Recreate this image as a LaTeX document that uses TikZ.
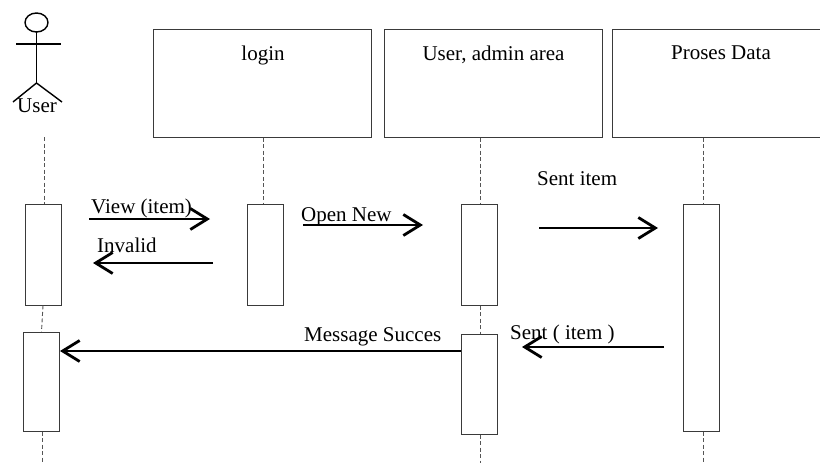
\documentclass[tikz,border=0pt]{standalone}
\usepackage{fontspec}
\setmainfont{Liberation Serif}
\usetikzlibrary{arrows.meta}
\definecolor{boxgray}{HTML}{3A3A3A}
\definecolor{linegray}{HTML}{555555}
\tikzset{
  txt/.style={font=\fontsize{21}{25}\selectfont, inner sep=0pt, anchor=base},
  hbox/.style={draw=boxgray, line width=1pt, minimum width=218pt, minimum height=108pt, inner sep=0pt},
  actbox/.style={draw=boxgray, line width=1pt, fill=white, minimum width=36pt, inner sep=0pt},
  lifeline/.style={draw=linegray, line width=0.9pt, dash pattern=on 4pt off 2.5pt},
  msg/.style={draw=black, line width=2.8pt, -{Straight Barb[length=17pt,width=21pt]}},
  actorline/.style={draw=black, line width=1.4pt}
}
\begin{document}
\begin{tikzpicture}[x=1pt,y=-1pt]
\useasboundingbox (0,0) rectangle (820,463);
\clip (0,0) rectangle (820,463);
% actor
\coordinate (head) at (36.5,22.5);
\draw[actorline] (head) ellipse [x radius=11.5pt, y radius=9.5pt];
\coordinate (neck) at (36.5,32);
\coordinate (hip) at (36.5,83);
\coordinate (handl) at (16,44);
\coordinate (handr) at (61,44);
\coordinate (footl) at (13,102);
\coordinate (footr) at (62,102);
\draw[actorline] (neck) -- (hip);
\draw[actorline] (handl) -- (handr);
\draw[actorline] (footl) -- (hip) -- (footr);
\node[txt] (usertxt) at (37,112) {User};
% header boxes
\node[hbox] (login) at (262.5,83) {};
\node[hbox] (admin) at (493,83) {};
\node[hbox] (proses) at (721,83) {};
\node[txt] (logintxt) at (263,60) {login};
\node[txt] (admintxt) at (493.5,60) {User, admin area};
\node[txt] (prosestxt) at (721,59) {Proses Data};
% activation boxes
\node[actbox, minimum height=101pt] (ua1) at (43,254.5) {};
\node[actbox, minimum height=99pt] (ua2) at (41.5,381.5) {};
\node[actbox, minimum height=101pt] (la1) at (265,254.5) {};
\node[actbox, minimum height=101pt] (aa1) at (479,254.5) {};
\node[actbox, minimum height=100pt] (aa2) at (479,384) {};
\node[actbox, minimum height=227pt] (pa1) at (701,317.5) {};
% lifelines
\coordinate (utop) at (44,137);
\coordinate (ubot) at (42,463);
\coordinate (abot) at (480,463);
\coordinate (pbot) at (703,463);
\draw[lifeline] (utop) -- (utop |- ua1.north);
\draw[lifeline] (ua1.south) -- (ua2.north);
\draw[lifeline] (ubot |- ua2.south) -- (ubot);
\draw[lifeline] (login.south -| 263,0) -- (la1.north -| 263,0);
\draw[lifeline] (admin.south -| abot) -- (aa1.north -| abot);
\draw[lifeline] (aa1.south -| abot) -- (aa2.north -| abot);
\draw[lifeline] (aa2.south -| abot) -- (abot);
\draw[lifeline] (proses.south -| pbot) -- (pa1.north -| pbot);
\draw[lifeline] (pa1.south -| pbot) -- (pbot);
% messages
\coordinate (m1s) at (89,219);  \coordinate (m1e) at (210,219);
\coordinate (m2s) at (213,263); \coordinate (m2e) at (93,263);
\coordinate (m3s) at (303,225); \coordinate (m3e) at (423,225);
\coordinate (m4s) at (539,228); \coordinate (m4e) at (658,228);
\coordinate (m5s) at (664,347); \coordinate (m5e) at (522,347);
\draw[msg] (m1s) -- (m1e);
\draw[msg] (m2s) -- (m2e);
\draw[msg] (m3s) -- (m3e);
\draw[msg] (m4s) -- (m4e);
\draw[msg] (m5s) -- (m5e);
\draw[msg] (aa2.west |- 0,351) -- (ua2.east |- 0,351);
\node[txt, anchor=base west] (l1) at (91,213) {View (item)};
\node[txt, anchor=base west] (l2) at (97,252) {Invalid};
\node[txt, anchor=base west] (l3) at (301,221) {Open New};
\node[txt, anchor=base west] (l4) at (537,185) {Sent item};
\node[txt, anchor=base west] (l5) at (510,339) {Sent ( item )};
\node[txt, anchor=base west] (l6) at (304,341) {Message Succes};
\end{tikzpicture}
\end{document}
